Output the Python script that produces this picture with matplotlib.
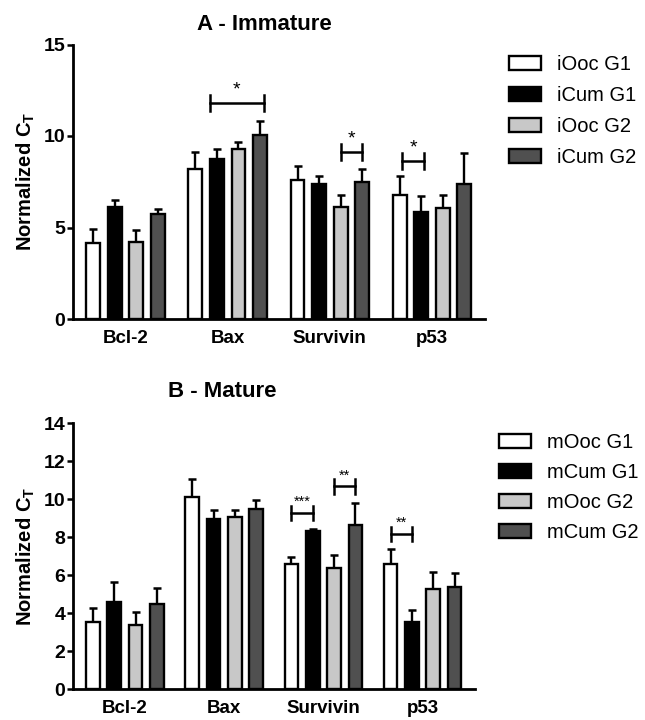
import numpy as np
import matplotlib
matplotlib.use("Agg")
import matplotlib.pyplot as plt

plt.rcParams['font.family'] = ['Liberation Sans', 'DejaVu Sans']
plt.rcParams['mathtext.fontset'] = 'custom'
plt.rcParams['mathtext.rm'] = 'Liberation Sans:bold'

# data
genes = ['Bcl-2', 'Bax', 'Survivin', 'p53']
colors = ['white', 'black', '#c8c8c8', '#505050']

labels_a = ['iOoc G1', 'iCum G1', 'iOoc G2', 'iCum G2']
mean_a = [[4.15, 8.2, 7.6, 6.75],      # iOoc G1
          [6.1, 8.75, 7.35, 5.85],     # iCum G1
          [4.2, 9.3, 6.1, 6.05],       # iOoc G2
          [5.75, 10.05, 7.5, 7.35]]    # iCum G2
top_a = [[4.9, 9.1, 8.35, 7.8],
         [6.5, 9.3, 7.8, 6.7],
         [4.85, 9.65, 6.77, 6.8],
         [6.0, 10.8, 8.2, 9.05]]

labels_b = ['mOoc G1', 'mCum G1', 'mOoc G2', 'mCum G2']
mean_b = [[3.55, 10.1, 6.58, 6.59],
          [4.6, 8.95, 8.35, 3.55],
          [3.37, 9.05, 6.37, 5.26],
          [4.46, 9.5, 8.65, 5.4]]
top_b = [[4.25, 11.06, 6.93, 7.37],
         [5.62, 9.44, 8.44, 4.17],
         [4.04, 9.44, 7.07, 6.14],
         [5.33, 9.97, 9.79, 6.12]]

# significance brackets: (gene index, left bar pos, right bar pos, height, stars)
sig_a = [(1, 0.67, 3.18, 11.8, '*'),
         (2, 2.0, 3.0, 9.13, '*'),
         (3, 0.1, 1.15, 8.62, '*')]
sig_b = [(2, 0.0, 1.0, 9.26, '***'),
         (2, 2.0, 3.0, 10.67, '**'),
         (3, 0.0, 1.0, 8.15, '**')]


def panel(ax, means, tops, labels, sig, step, ymax, yticks, cap, starsize):
    width = 0.64
    handles = []
    for i in range(4):
        x = np.arange(4) * step + i
        m = np.array(means[i])
        err = np.array(tops[i]) - m
        b = ax.bar(x, m, width, color=colors[i], edgecolor='black',
                   linewidth=1.7, label=labels[i], zorder=3)
        ax.errorbar(x, m, yerr=[np.zeros(4), err], fmt='none', ecolor='black',
                    elinewidth=1.7, capsize=3, capthick=1.8, zorder=2)
        handles.append(b)
    for g, a, c, y, s in sig:
        x0 = g * step + a
        x1 = g * step + c
        ax.plot([x0, x1], [y, y], color='black', lw=1.8)
        ax.plot([x0, x0], [y - cap, y + cap], color='black', lw=1.8)
        ax.plot([x1, x1], [y - cap, y + cap], color='black', lw=1.8)
        ax.text((x0 + x1) / 2, y + cap * 0.6, s, ha='center', va='bottom',
                fontsize=starsize)
    ax.set_xlim(-0.94, 3 * step + 3 + 0.96)
    ax.set_ylim(0, ymax)
    ax.set_yticks(yticks)
    ax.set_xticks(np.arange(4) * step + 1.5)
    ax.set_xticklabels(genes)
    ax.tick_params(axis='x', length=0, pad=8, labelsize=13.5)
    ax.tick_params(axis='y', length=4, width=1.8, pad=1.5, labelsize=14)
    for t in ax.get_xticklabels() + ax.get_yticklabels():
        t.set_fontweight('bold')
    for sp in ['top', 'right']:
        ax.spines[sp].set_visible(False)
    for sp in ['left', 'bottom']:
        ax.spines[sp].set_linewidth(2)
    return handles


fig = plt.figure(figsize=(6.45, 7.2), dpi=100)

ax1 = fig.add_axes([73 / 645, 1 - 319 / 720, 412 / 645, 274.5 / 720])
h1 = panel(ax1, mean_a, top_a, labels_a, sig_a, 4.74, 15, [0, 5, 10, 15], 0.45, 14)
ax1.set_ylabel('Normalized C$_\\mathrm{T}$', fontsize=14.5, fontweight='bold', labelpad=5)
fig.text(264 / 645, 1 - 25 / 720, 'A - Immature', ha='center', va='center',
         fontsize=16, fontweight='bold')
ax1.legend(handles=h1, loc='upper left', bbox_to_anchor=(509 / 645, 1 - 55 / 720),
           bbox_transform=fig.transFigure, frameon=False, fontsize=14.5,
           handlelength=1.6, handleheight=0.65, handletextpad=0.8,
           labelspacing=0.6, borderpad=0, borderaxespad=0)

ax2 = fig.add_axes([73 / 645, 1 - 689 / 720, 402 / 645, 265.7 / 720])
h2 = panel(ax2, mean_b, top_b, labels_b, sig_b, 4.66, 14, np.arange(0, 15, 2), 0.37, 10.5)
ax2.set_ylabel('Normalized C$_\\mathrm{T}$', fontsize=14.5, fontweight='bold', labelpad=5)
fig.text(222 / 645, 1 - 392 / 720, 'B - Mature', ha='center', va='center',
         fontsize=16, fontweight='bold')
ax2.legend(handles=h2, loc='upper left', bbox_to_anchor=(499 / 645, 1 - 433 / 720),
           bbox_transform=fig.transFigure, frameon=False, fontsize=14.5,
           handlelength=1.6, handleheight=0.65, handletextpad=0.8,
           labelspacing=0.55, borderpad=0, borderaxespad=0)

fig.savefig('out.png', dpi=100)
